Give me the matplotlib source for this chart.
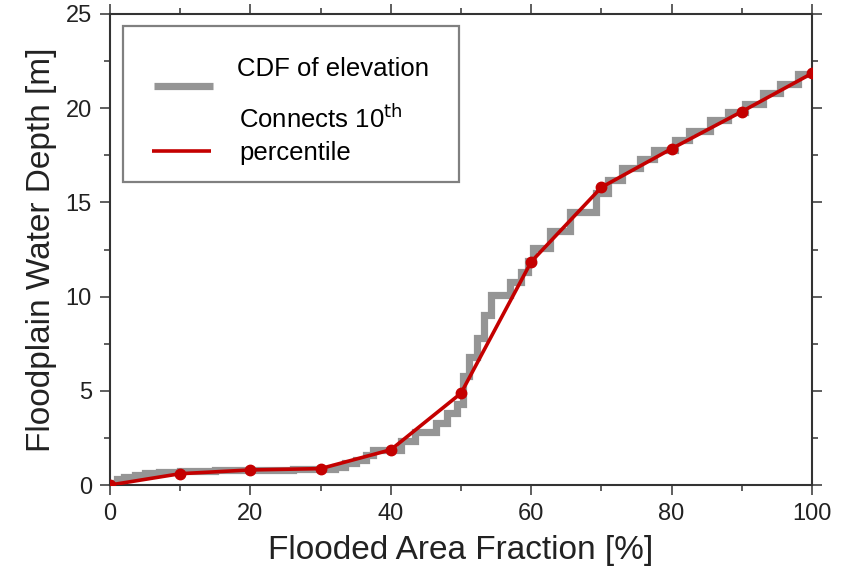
import matplotlib
matplotlib.use('Agg')
import matplotlib.pyplot as plt
from matplotlib.patches import Rectangle
from matplotlib.lines import Line2D
from matplotlib.ticker import MultipleLocator

# CDF of elevation (start of each tread, depth in m)
cdf_x = [0, 1, 2, 3.5, 5, 7, 10, 15, 20, 26, 32, 33.5, 35, 36.5, 37.5, 41.5, 43.5,
         46.5, 48, 49.5, 50.3, 51.2, 52.3, 53.3, 54.3, 57, 58.6, 59.5, 60.3, 62.7,
         65.5, 69.3, 71, 73, 75.5, 77.5, 80.5, 82.5, 85.5, 88, 90.5, 93, 95.5, 98, 100]
cdf_y = [0.12, 0.3, 0.42, 0.55, 0.62, 0.68, 0.72, 0.77, 0.82, 0.86, 0.95, 1.15, 1.35,
         1.6, 1.85, 2.35, 2.8, 3.3, 3.8, 4.3, 5.8, 6.8, 7.8, 9.0, 10.1, 10.8, 11.3,
         11.9, 12.6, 13.5, 14.5, 15.5, 16.2, 16.8, 17.3, 17.8, 18.3, 18.8, 19.4,
         19.8, 20.2, 20.8, 21.3, 21.8, 21.8]

# points every 10th percentile
pct_x = [0, 10, 20, 30, 40, 50, 60, 70, 80, 90, 100]
pct_y = [0.0, 0.6, 0.8, 0.87, 1.87, 4.87, 11.85, 15.8, 17.85, 19.82, 21.85]

gray = '#959595'
red = '#c40000'
tick_font = ['Liberation Sans Narrow', 'Liberation Sans', 'DejaVu Sans']
text_font = ['Liberation Sans', 'DejaVu Sans']

fig = plt.figure(figsize=(8.61, 5.66), dpi=100)
W, H = 861, 566
ax = fig.add_axes([110 / W, 1 - 485 / H, 702 / W, 471 / H])

ax.plot(cdf_x, cdf_y, drawstyle='steps-post', color=gray, lw=5.2,
        solid_joinstyle='miter', zorder=2)
ax.plot(pct_x, pct_y, color=red, lw=2.6, marker='o', ms=7.5, zorder=3)

ax.set_xlim(0, 100)
ax.set_ylim(0, 25)
ax.xaxis.set_major_locator(MultipleLocator(20))
ax.xaxis.set_minor_locator(MultipleLocator(10))
ax.yaxis.set_major_locator(MultipleLocator(5))
ax.yaxis.set_minor_locator(MultipleLocator(2.5))
ax.tick_params(which='both', direction='out', top=True, right=True,
               color='#333333', width=1.1)
ax.tick_params(which='major', length=7, pad=6)
ax.tick_params(which='minor', length=4)
for s in ax.spines.values():
    s.set_linewidth(1.5)
    s.set_color('#333333')
for lab in ax.get_xticklabels() + ax.get_yticklabels():
    lab.set_family(tick_font)
    lab.set_fontsize(17)
    lab.set_color('#222222')

ax.set_xlabel('Flooded Area Fraction [%]', family=tick_font, fontsize=24,
              color='#222222', labelpad=7)
ax.set_ylabel('Floodplain Water Depth [m]', family=tick_font, fontsize=24,
              color='#222222', labelpad=6)

# hand-placed legend box (pixel positions from the top-left corner)
def fx(px):
    return px / W

def fy(py):
    return 1 - py / H

fig.patches.append(Rectangle((fx(123), fy(182)), fx(459) - fx(123), fy(26) - fy(182),
                             transform=fig.transFigure, facecolor='white',
                             edgecolor='#808080', lw=1.6, zorder=5))
fig.lines.append(Line2D([fx(154), fx(213)], [fy(86), fy(86)], transform=fig.transFigure,
                        color=gray, lw=5.2, solid_capstyle='butt', zorder=6))
fig.lines.append(Line2D([fx(152), fx(211)], [fy(151), fy(151)], transform=fig.transFigure,
                        color=red, lw=2.6, solid_capstyle='butt', zorder=6))
fig.text(fx(237), fy(69), 'CDF of elevation', family=text_font, fontsize=18.5,
         va='center', ha='left', zorder=7)
fig.text(fx(239), fy(119), 'Connects 10$^{\\mathrm{th}}$', family=text_font, fontsize=18.5,
         va='center', ha='left', zorder=7)
fig.text(fx(239), fy(153), 'percentile', family=text_font, fontsize=18.5,
         va='center', ha='left', zorder=7)

fig.savefig('out.png', dpi=100)
